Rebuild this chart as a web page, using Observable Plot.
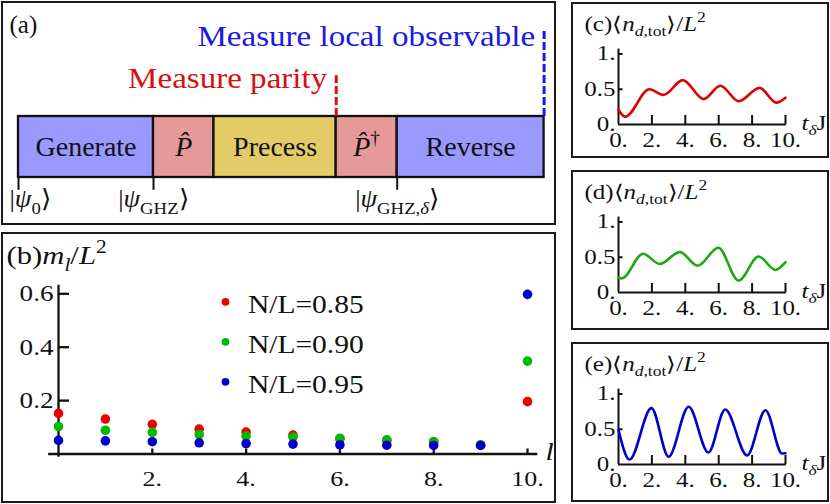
<!DOCTYPE html>
<html><head><meta charset="utf-8">
<script src="https://cdn.jsdelivr.net/npm/d3@7"></script>
<script src="https://cdn.jsdelivr.net/npm/@observablehq/plot@0.6"></script>
<style>
body{margin:0;background:#fff}
#fig{position:relative;width:830px;height:504px;overflow:hidden;background:#fff;font-family:"Liberation Serif",serif}
.box{position:absolute;border:2px solid #1a1a1a;box-sizing:border-box}
</style></head>
<body><div id="fig"></div>
<script>
// ---------- data: panel (a) schematic ----------
const stageNames = ["Generate", "*P̂*", "Precess", "*P̂*^{†}", "Reverse"];
const stageStart = [0, 135, 195.5, 317.7, 378.7];
const stageEnd = [135, 195.5, 317.7, 378.7, 525.6];
const stageColors = ["#9999ff", "#e69999", "#e3cc66", "#e69999", "#9999ff"];
const stateAt = [0, 135, 378.7];
const stateLabels = ["|*ψ*_{0}⟩", "|*ψ*_{GHZ}⟩", "|*ψ*_{GHZ,*δ*}⟩"];
const measureAt = [317.7, 525.6];
const measureLabels = ["Measure parity", "Measure local observable"];
const measureColors = ["#d81010", "#1a1ae0"];
const measureTop = [1.67, 2.43];
const measureTextY = [1.47, 2.16];

// ---------- data: panel (b) ----------
const lValues = [0,1,2,3,4,5,6,7,8,9,10];
const seriesLabels = ["N/L=0.85", "N/L=0.90", "N/L=0.95"];
const seriesColors = ["#ee0000", "#00bb00", "#0000cc"];
const m085 = [0.152,0.131,0.111,0.093,0.082,0.071,0.057,0.051,0.045,0.033,0.196];
const m090 = [0.103,0.089,0.081,0.073,0.067,0.063,0.059,0.053,0.046,0.034,0.348];
const m095 = [0.051,0.049,0.046,0.042,0.039,0.037,0.034,0.033,0.032,0.032,0.598];
const bTicksY = [0.2, 0.4, 0.6];
const bTicksX = [2, 4, 6, 8, 10];

// ---------- data: panels (c)(d)(e) ----------
const tC = [0, 0.4, 1.85, 2.7, 3.85, 5.1, 6.1, 7.2, 8.45, 9.45, 10];
const nC = [0.21, 0.11, 0.50, 0.42, 0.63, 0.36, 0.55, 0.33, 0.52, 0.31, 0.38];
const tD = [0, 0.2, 1.47, 2.47, 3.67, 4.74, 5.98, 7.19, 8.39, 9.4, 10];
const nD = [0.21, 0.20, 0.55, 0.405, 0.575, 0.38, 0.634, 0.17, 0.51, 0.32, 0.43];
const tE = [0, 0.66, 1.97, 3.0, 4.2, 5.38, 6.39, 7.7, 8.8, 9.8, 10];
const nE = [0.49, 0.07, 0.80, 0.11, 0.82, 0.17, 0.78, 0.13, 0.77, 0.155, 0.16];
const smallTicksY = [0, 0.5, 1];
const smallTicksX = [0, 2, 4, 6, 8, 10];

// ---------- helpers ----------
const fig = document.getElementById("fig");
function box(x, y, w, h) {
  const d = document.createElement("div");
  d.className = "box";
  Object.assign(d.style, {left: x + "px", top: y + "px", width: w + "px", height: h + "px"});
  fig.appendChild(d);
}
function place(svg, x, y) {
  Object.assign(svg.style, {position: "absolute", left: x + "px", top: y + "px", background: "transparent",
    maxWidth: "none", overflow: "visible", fontFamily: "'Liberation Serif', serif", color: "#111"});
  fig.appendChild(svg);
}
function parseRich(s) {
  const out = []; let it = false, lvl = 0, buf = "", i = 0;
  const flush = () => { if (buf) { out.push({t: buf, it, lvl}); buf = ""; } };
  while (i < s.length) {
    const c = s[i];
    if (c === "*") { flush(); it = !it; i++; }
    else if ((c === "_" || c === "^") && s[i + 1] === "{") { flush(); lvl = c === "_" ? -1 : 1; i += 2; }
    else if (c === "}" && lvl !== 0) { flush(); lvl = 0; i++; }
    else { buf += c; i++; }
  }
  flush(); return out;
}
function richify(svg) {
  svg.querySelectorAll("text").forEach(el => {
    const s = el.textContent;
    if (!/[*_^]/.test(s)) return;
    const fs = parseFloat(getComputedStyle(el).fontSize) || 16;
    const segs = parseRich(s);
    el.textContent = "";
    let prev = 0;
    for (const g of segs) {
      const ts = document.createElementNS("http://www.w3.org/2000/svg", "tspan");
      const off = g.lvl < 0 ? 0.28 * fs : g.lvl > 0 ? -0.42 * fs : 0;
      if (off !== prev) ts.setAttribute("dy", (off - prev).toFixed(2));
      prev = off;
      if (g.lvl !== 0) ts.setAttribute("font-size", (0.7 * fs).toFixed(1));
      if (g.it) ts.setAttribute("font-style", "italic");
      ts.textContent = g.t;
      el.appendChild(ts);
    }
  });
}
// horizontal stretch of texts (about their anchor), optionally only those whose content passes a test
function stretch(svg, s, test = () => true) {
  svg.querySelectorAll("text").forEach(el => {
    if (!test(el.textContent)) return;
    const T = el.getAttribute("transform") || "";
    const x = parseFloat(el.getAttribute("x")) || 0;
    el.setAttribute("transform", `${T} translate(${x},0) scale(${s},1) translate(${-x},0)`);
  });
}
function lab(text, px, py, m, opts = {}) {
  return Plot.text([text], {frameAnchor: "top-left", dx: px - m.l, dy: py - m.t, text: d => d,
    textAnchor: "start", lineAnchor: "bottom", ...opts});
}
// inward ticks and tick labels drawn from the scales
function ticksX(ticks, len, sw) {
  return Plot.ruleX(ticks, {x: d => d, y1: 0, y2: 0, insetTop: -len, stroke: "#111", strokeWidth: sw});
}
function ticksY(ticks, len, sw) {
  return Plot.ruleY(ticks, {y: d => d, x1: 0, x2: 0, insetRight: -len, stroke: "#111", strokeWidth: sw});
}
function labelsX(ticks, fmt, below, fs) {
  return Plot.text(ticks, {x: d => d, y: 0, dy: below, text: fmt, lineAnchor: "bottom", textAnchor: "middle", fontSize: fs, fill: "#111"});
}
function labelsY(ticks, fmt, pad, fs) {
  return Plot.text(ticks, {x: 0, y: d => d, dx: -pad, text: fmt, lineAnchor: "middle", textAnchor: "end", fontSize: fs, fill: "#111"});
}

// ---------- panel boxes ----------
box(1, 1, 555, 224);
box(1, 232, 555, 271);
box(571, 2, 258, 156);
box(571, 170, 258, 160);
box(571, 342, 258, 160);

// ---------- panel (a) ----------
{
  const m = {l: 18, r: 13.4, t: 116, b: 49};
  const stages = stageNames.map((name, i) => ({name, x1: stageStart[i], x2: stageEnd[i], color: stageColors[i]}));
  const states = stateAt.map((x, i) => ({x, label: stateLabels[i]}));
  const meas = measureAt.map((x, i) => ({x, label: measureLabels[i], color: measureColors[i], top: measureTop[i], ty: measureTextY[i]}));
  const svg = Plot.plot({
    width: 557, height: 226, marginLeft: m.l, marginRight: m.r, marginTop: m.t, marginBottom: m.b,
    x: {domain: [0, 525.6], axis: null}, y: {domain: [0, 1], axis: null},
    color: {type: "identity"},
    marks: [
      Plot.rect(stages, {x1: "x1", x2: "x2", y1: 0, y2: 1, fill: "color", stroke: "#111", strokeWidth: 2.3}),
      Plot.text(stages, {x: d => (d.x1 + d.x2) / 2, y: 0.5, text: "name", fontSize: 28, lineAnchor: "middle", fill: "#111"}),
      Plot.ruleX(states, {x: "x", y1: 0, y2: -0.21, stroke: "#111", strokeWidth: 2}),
      Plot.text(states.slice(0, 1), {x: "x", y: -0.49, text: "label", textAnchor: "start", dx: -9, lineAnchor: "bottom", fontSize: 25, fill: "#111"}),
      Plot.text(states.slice(1), {x: "x", y: -0.49, text: "label", textAnchor: "middle", lineAnchor: "bottom", fontSize: 25, fill: "#111"}),
      Plot.ruleX(meas, {x: "x", y1: 1, y2: "top", stroke: "color", strokeWidth: 3, strokeDasharray: "8,3"}),
      Plot.text(meas, {x: "x", y: "ty", text: "label", fill: "color", textAnchor: "end", dx: -9, lineAnchor: "bottom", fontSize: 29}),
      lab("(a)", 9, 32, m, {fontSize: 25, fill: "#111"})
    ]
  });
  place(svg, 0, 0);
  stretch(svg, 1.14, s => measureLabels.includes(s));
  stretch(svg, 1.07, s => stateLabels.includes(s));
  richify(svg);
}

// ---------- panel (b) ----------
{
  const W = 557, H = 272;
  const m = {l: 58, r: 30, t: 62.3, b: 49.5};
  const series = [m085, m090, m095];
  const pts = [];
  seriesLabels.forEach((s, k) => lValues.forEach((l, i) => pts.push({l, v: series[k][i], s})));
  const legend = seriesLabels.flatMap((s, k) => [
    Plot.dot([s], {frameAnchor: "top-left", dx: 225 - m.l, dy: 70.3 + 40 * k - m.t, fill: d => d, r: 3.9}),
    lab(s, 247.5, 81.8 + 40 * k, m, {fontSize: 25, fill: "#111"})
  ]);
  const svg = Plot.plot({
    width: W, height: H, marginLeft: m.l, marginRight: m.r, marginTop: m.t, marginBottom: m.b,
    x: {domain: [0, 10], axis: null}, y: {domain: [0, 0.6], axis: null},
    color: {domain: seriesLabels, range: seriesColors},
    marks: [
      ticksY(bTicksY, 11, 2.3),
      ticksX(bTicksX, 5, 2.3),
      Plot.ruleY([0], {x1: -0.21, x2: 10.22, strokeWidth: 2.3, stroke: "#111"}),
      Plot.ruleX([0], {y1: -0.012, y2: 0.632, strokeWidth: 2.3, stroke: "#111"}),
      labelsY(bTicksY, d => d.toFixed(1), 5, 23),
      labelsX(bTicksX, d => d + ".", 32, 22),
      Plot.dot(pts, {x: "l", y: "v", fill: "s", r: 4.8}),
      ...legend,
      lab("(b)*m*_{*l*}/*L*^{2}", 6, 32, m, {fontSize: 26, fill: "#111"}),
      lab("*l*", 545, 228, m, {fontSize: 25, fill: "#111"})
    ]
  });
  place(svg, 0, 231);
  stretch(svg, 1.18);
  richify(svg);
}

// ---------- panels (c)(d)(e) ----------
function smallPanel(tag, t, v, color, x0, y0, h) {
  const w = 258;
  const m = {l: 47, r: w - 214, t: 51.5, b: h - 122};
  const fmt = d => Number.isInteger(d) ? d + "." : String(d);
  const svg = Plot.plot({
    width: w, height: h, marginLeft: m.l, marginRight: m.r, marginTop: m.t, marginBottom: m.b,
    x: {domain: [0, 10], axis: null}, y: {domain: [0, 1], axis: null},
    marks: [
      ticksY([0.5, 1], 4.5, 2),
      ticksX([2, 4, 6, 8, 10], 9, 2),
      Plot.ruleY([0], {x1: 0, x2: 10.05, strokeWidth: 2, stroke: "#111"}),
      Plot.ruleX([0], {y1: 0, y2: 1.07, strokeWidth: 2, stroke: "#111"}),
      labelsY(smallTicksY, fmt, 3, 20),
      labelsX(smallTicksX, fmt, 22, 20),
      Plot.line(t.map((tt, i) => ({t: tt, v: v[i]})), {x: "t", y: "v", stroke: color, strokeWidth: 2.6, curve: "monotone-x"}),
      lab(`(${tag})⟨*n*_{*d*,tot}⟩/*L*^{2}`, 13, 28, m, {fontSize: 20, fill: "#111"}),
      lab("*t*_{*δ*}J", 230, 127, m, {fontSize: 20, fill: "#111"})
    ]
  });
  place(svg, x0, y0);
  stretch(svg, 1.25);
  richify(svg);
}
smallPanel("c", tC, nC, "#dd0000", 571, 2, 156);
smallPanel("d", tD, nD, "#1aaa0a", 571, 170, 160);
smallPanel("e", tE, nE, "#0000cc", 571, 342, 160);
</script>
</body></html>
